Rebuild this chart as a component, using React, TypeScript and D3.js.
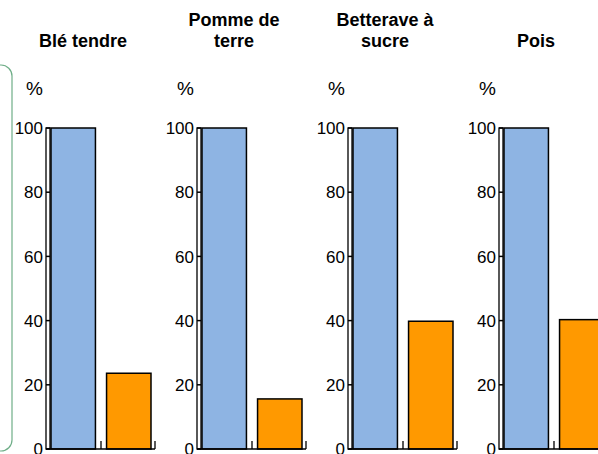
import { scaleBand, scaleLinear } from "d3";

const crops = ["Blé tendre", "Pomme de\nterre", "Betterave à\nsucre", "Pois"];
const refValues = [100, 100, 100, 100];
const cropValues = [23.6, 15.6, 39.8, 40.3];
const yTicks = [0, 20, 40, 60, 80, 100];

const W = 598;
const H = 454;

const Panel = ({ x0, title, refValue, value }: { x0: number; title: string; refValue: number; value: number }) => {
  const yScale = scaleLinear().domain([0, 100]).range([449, 128]);
  const inner = scaleBand().domain(["ref", "crop"]).range([x0 + 5, x0 + 105]).paddingInner(0.2);
  const bw = inner.bandwidth();
  const base = yScale(0);
  const lines = title.split("\n");
  const sepX = (inner("ref")! + bw + inner("crop")!) / 2;
  const endX = x0 + 109;

  return (
    <g>
      <text
        x={x0 + 37}
        textAnchor="middle"
        fontFamily="Liberation Sans, Arial, sans-serif"
        fontWeight="bold"
        fontSize={18}
      >
        {lines.map((l, i) => (
          <tspan key={i} x={x0 + 37} y={lines.length === 1 ? 47 : 26 + i * 21}>
            {l}
          </tspan>
        ))}
      </text>
      <text x={x0 - 20} y={95} fontFamily="Liberation Sans, Arial, sans-serif" fontSize={19}>
        %
      </text>
      <rect
        x={inner("ref")}
        y={yScale(refValue)}
        width={bw}
        height={base - yScale(refValue)}
        fill="#8eb4e3"
        stroke="#000"
        strokeWidth={1.5}
      />
      <rect
        x={inner("crop")}
        y={yScale(value)}
        width={bw}
        height={base - yScale(value)}
        fill="#ff9900"
        stroke="#000"
        strokeWidth={1.5}
      />
      {/* double-line y axis */}
      <rect x={x0} y={yScale(100)} width={4} height={base - yScale(100)} fill="#fff" stroke="#000" strokeWidth={1.3} />
      {yTicks.map((t) => (
        <g key={t}>
          <line x1={x0} x2={x0 + 4} y1={yScale(t)} y2={yScale(t)} stroke="#000" strokeWidth={1.5} />
          <text
            x={x0 - 3}
            y={yScale(t)}
            dy="0.36em"
            textAnchor="end"
            fontFamily="Liberation Sans, Arial, sans-serif"
            fontSize={17}
          >
            {t}
          </text>
        </g>
      ))}
      <line x1={x0} x2={endX} y1={base} y2={base} stroke="#000" strokeWidth={1.5} />
      <line x1={sepX} x2={sepX} y1={base} y2={base - 8} stroke="#000" strokeWidth={1.3} />
      <line x1={endX} x2={endX} y1={base} y2={base - 8} stroke="#000" strokeWidth={1.3} />
    </g>
  );
};

export default function App() {
  const panels = scaleBand()
    .domain(crops)
    .range([46, 46 + 151 * crops.length])
    .padding(0);

  return (
    <svg width={W} height={H} style={{ position: "absolute", left: 0, top: 0, background: "#fff" }}>
      <rect x={-20} y={65} width={32} height={386} rx={11} fill="none" stroke="#6fae88" strokeWidth={1.2} />
      {crops.map((c, i) => (
        <Panel key={c} x0={panels(c)!} title={c} refValue={refValues[i]} value={cropValues[i]} />
      ))}
    </svg>
  );
}
